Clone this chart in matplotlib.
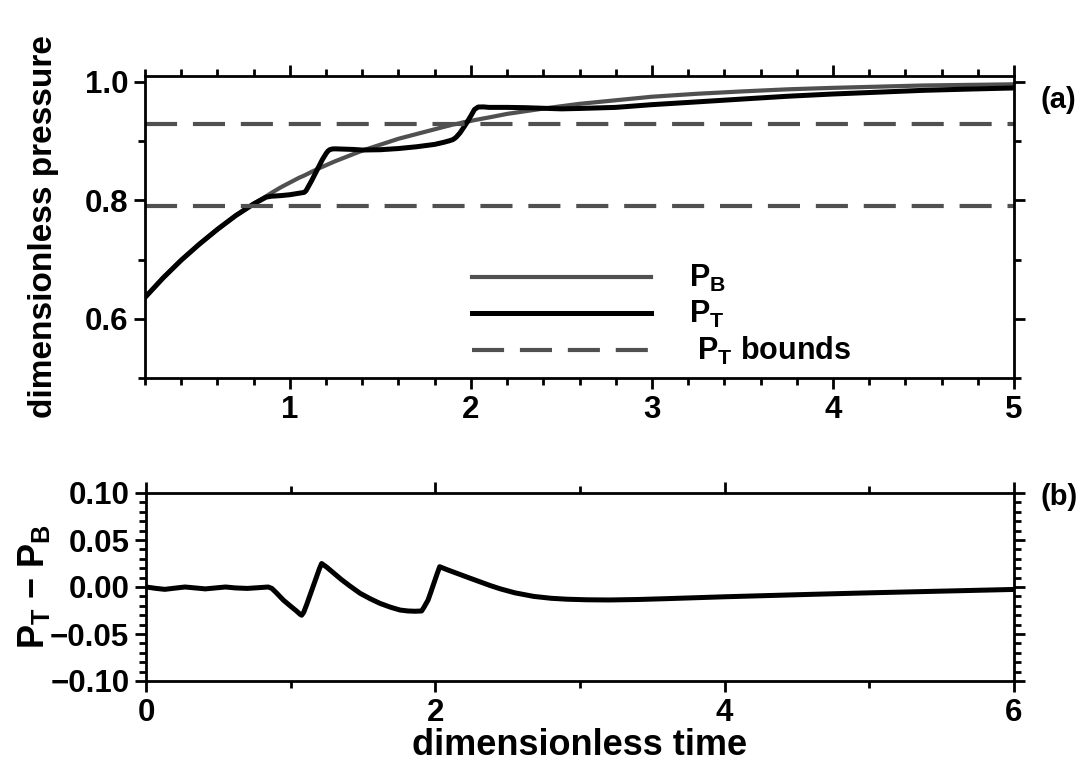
import matplotlib
matplotlib.use("Agg")
import matplotlib.pyplot as plt
from matplotlib.ticker import MultipleLocator
from matplotlib.lines import Line2D

plt.rcParams['font.family'] = ['Liberation Sans', 'DejaVu Sans']
plt.rcParams['font.weight'] = 'bold'
plt.rcParams['mathtext.fontset'] = 'custom'
plt.rcParams['mathtext.rm'] = 'Liberation Sans:bold'
plt.rcParams['mathtext.it'] = 'Liberation Sans:bold'
plt.rcParams['mathtext.bf'] = 'Liberation Sans:bold'
plt.rcParams['axes.linewidth'] = 2.0

# ---- panel (a): pressures vs time ----
t_top = [0.2, 0.3, 0.4, 0.5, 0.6, 0.7, 0.8, 0.87, 0.9, 0.95, 1.0, 1.05,
         1.08, 1.09, 1.1, 1.12, 1.14, 1.16, 1.18, 1.2, 1.21, 1.22, 1.235,
         1.25, 1.3, 1.35, 1.4, 1.5, 1.6, 1.7, 1.8, 1.85, 1.88, 1.9, 1.91,
         1.92, 1.94, 1.96, 1.98, 2.0, 2.02, 2.04, 2.07, 2.1, 2.2, 2.3, 2.4,
         2.5, 2.6, 2.8, 3.0, 3.25, 3.5, 3.75, 4.0, 4.25, 4.5, 4.75, 5.0]
p_b = [0.636, 0.669, 0.699, 0.726, 0.751, 0.774, 0.794, 0.807, 0.8129,
       0.822, 0.830, 0.838, 0.842, 0.8435, 0.845, 0.8482, 0.851, 0.854,
       0.8566, 0.8593, 0.8607, 0.862, 0.864, 0.866, 0.872, 0.878, 0.884,
       0.894, 0.904, 0.912, 0.920, 0.924, 0.9263, 0.928, 0.9285, 0.929,
       0.9303, 0.932, 0.9329, 0.9342, 0.9355, 0.9366, 0.9384, 0.940, 0.946,
       0.9505, 0.955, 0.959, 0.963, 0.969, 0.975, 0.980, 0.984, 0.9875,
       0.990, 0.992, 0.994, 0.995, 0.996]
p_t = [0.636, 0.669, 0.699, 0.726, 0.751, 0.774, 0.794, 0.8055, 0.807,
       0.808, 0.8095, 0.812, 0.8135, 0.8165, 0.822, 0.833, 0.845, 0.857,
       0.869, 0.879, 0.8830, 0.8855, 0.8868, 0.887, 0.8865, 0.886, 0.885,
       0.8855, 0.8875, 0.8905, 0.8945, 0.898, 0.9005, 0.9025, 0.9045, 0.907,
       0.914, 0.923, 0.9324, 0.9427, 0.9535, 0.9576, 0.9578, 0.957, 0.957,
       0.9565, 0.9555, 0.9545, 0.9552, 0.957, 0.9616, 0.9663, 0.9711,
       0.9758, 0.9796, 0.9827, 0.9858, 0.9879, 0.9898]
pt_bounds = [0.790, 0.929]

# ---- panel (b): difference P_T - P_B ----
t_diff = [0.0, 0.07, 0.13, 0.2, 0.27, 0.34, 0.41, 0.48, 0.55, 0.62, 0.7,
          0.77, 0.845, 0.87, 0.9, 0.95, 1.0, 1.04, 1.065, 1.076, 1.09, 1.11,
          1.14, 1.17, 1.2, 1.214, 1.25, 1.3, 1.35, 1.41, 1.48, 1.55, 1.617,
          1.69, 1.756, 1.81, 1.86, 1.905, 1.92, 1.95, 1.97, 1.99, 2.01, 2.03,
          2.08, 2.15, 2.22, 2.3, 2.38, 2.45, 2.55, 2.68, 2.8, 2.91, 3.05, 3.2,
          3.4, 3.6, 3.8, 4.0, 4.3, 4.6, 5.0, 5.5, 6.0]
dp = [0.0, -0.0015, -0.0025, -0.0012, 0.0, -0.001, -0.002, -0.001, 0.0,
      -0.001, -0.0015, -0.0008, 0.0, -0.0015, -0.006, -0.014, -0.0205,
      -0.0255, -0.0290, -0.030, -0.027, -0.019, -0.006, 0.007, 0.020, 0.025,
      0.021, 0.0145, 0.008, 0.001, -0.0067, -0.0125, -0.0174, -0.0215,
      -0.0245, -0.0255, -0.0258, -0.0255, -0.022, -0.0138, -0.005, 0.004,
      0.013, 0.0216, 0.0185, 0.0145, 0.0105, 0.006, 0.0015, -0.002, -0.0062,
      -0.0100, -0.0120, -0.0130, -0.0136, -0.0138, -0.0133, -0.0124,
      -0.0114, -0.0104, -0.0091, -0.0078, -0.0062, -0.0044, -0.0026]

W, H = 1084, 761
fig = plt.figure(figsize=(W / 100, H / 100), dpi=100)
ax1 = fig.add_axes([145 / W, 1 - 378 / H, (1014 - 145) / W, (378 - 76) / H])
ax2 = fig.add_axes([146 / W, 1 - 681 / H, (1014 - 146) / W, (681 - 493) / H])

gray = '#505050'
ax1.plot(t_top, p_b, color=gray, lw=3.0, solid_joinstyle='round')
ax1.plot(t_top, p_t, color='black', lw=3.6, solid_joinstyle='round')
for yb in pt_bounds:
    ax1.axhline(yb, color=gray, lw=3.0, dashes=(7.7, 3.8))

ax1.set_xlim(0.2, 5.0)
ax1.set_ylim(0.5, 1.01)
ax1.xaxis.set_major_locator(MultipleLocator(1))
ax1.xaxis.set_minor_locator(MultipleLocator(0.2))
ax1.yaxis.set_major_locator(MultipleLocator(0.2))
ax1.yaxis.set_minor_locator(MultipleLocator(0.1))
ax1.set_ylabel('dimensionless pressure', fontsize=24, fontweight='bold')
ax1.yaxis.set_label_coords(-0.099, 0.5)

leg_handles = [Line2D([], [], color=gray, lw=3.0),
               Line2D([], [], color='black', lw=3.6),
               Line2D([], [], color=gray, lw=3.0, dashes=(7.7, 3.8))]
leg_labels = ['$P_B$', '$P_T$', ' $P_T$ bounds']
ax1.legend(leg_handles, leg_labels, loc='upper left',
           bbox_to_anchor=(0.376, 0.38), frameon=False, fontsize=22,
           handlelength=5.88, handletextpad=1.24, labelspacing=0.16,
           borderpad=0, borderaxespad=0)
ax1.text(1.03, 0.92, '(a)', transform=ax1.transAxes, fontsize=21,
         fontweight='bold', ha='left', va='center')

ax2.plot(t_diff, dp, color='black', lw=3.6, solid_joinstyle='round')
ax2.set_xlim(0, 6)
ax2.set_ylim(-0.1, 0.1)
ax2.xaxis.set_major_locator(MultipleLocator(2))
ax2.xaxis.set_minor_locator(MultipleLocator(1))
ax2.yaxis.set_major_locator(MultipleLocator(0.05))
ax2.yaxis.set_minor_locator(MultipleLocator(0.01))
ax2.set_xlabel('dimensionless time', fontsize=26, fontweight='bold',
               labelpad=0)
ax2.set_ylabel('$P_T$ − $P_B$', fontsize=26, fontweight='bold')
ax2.yaxis.set_label_coords(-0.108, 0.5)
ax2.text(1.03, 0.98, '(b)', transform=ax2.transAxes, fontsize=21,
         fontweight='bold', ha='left', va='center')

for ax in (ax1, ax2):
    ax.tick_params(which='both', direction='out', top=True, right=True,
                   width=2, labelsize=22.5, pad=4)
    ax.tick_params(which='major', length=8)
    ax.tick_params(which='minor', length=5)
    for lab in ax.get_xticklabels() + ax.get_yticklabels():
        lab.set_fontweight('bold')

fig.savefig('out.png', dpi=100)
